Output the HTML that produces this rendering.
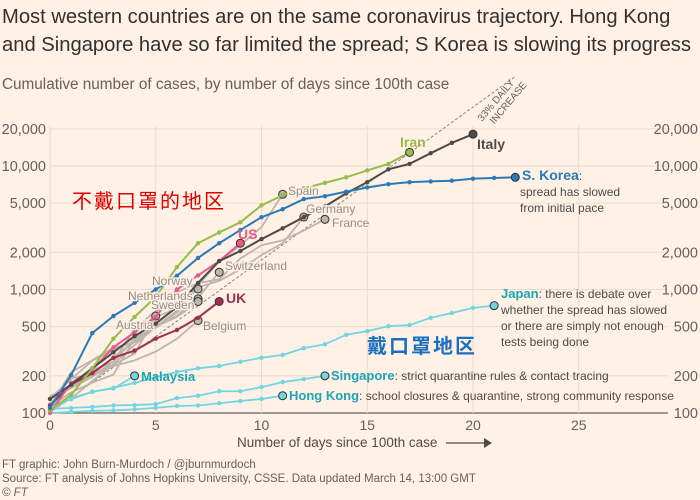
<!DOCTYPE html>
<html><head><meta charset="utf-8"><style>
body{margin:0;background:#fff1e5;}
svg{display:block;font-family:"Liberation Sans","Noto Sans CJK SC",sans-serif;}
</style></head><body>
<svg id="chart" width="700" height="500" viewBox="0 0 700 500">
<rect width="700" height="500" fill="#fff1e5"/>
<text x="2" y="23" font-size="20.2" fill="#33302e">Most western countries are on the same coronavirus trajectory. Hong Kong</text>
<text x="2" y="51" font-size="20.2" fill="#33302e">and Singapore have so far limited the spread; S Korea is slowing its progress</text>
<text x="2" y="89" font-size="15.3" fill="#66605c">Cumulative number of cases, by number of days since 100th case</text>
<g id="grid"></g><g id="series"></g><g id="labels"></g>
<text x="237" y="447" font-size="13.5" fill="#4e4a47">Number of days since 100th case</text>
<line x1="446" y1="443" x2="484" y2="443" stroke="#4e4a47" stroke-width="1.2"/>
<polygon points="484,438 492,443 484,448" fill="#4e4a47"/>
<text x="2" y="468" font-size="11.5" fill="#66605c">FT graphic: John Burn-Murdoch / @jburnmurdoch</text>
<text x="2" y="482" font-size="11.5" fill="#66605c">Source: FT analysis of Johns Hopkins University, CSSE. Data updated March 14, 13:00 GMT</text>
<text x="2" y="496" font-size="11.5" fill="#66605c" font-style="italic">© FT</text>
<text x="72" y="208" font-size="20" fill="#e00000" letter-spacing="2">不戴口罩的地区</text>
<text x="367" y="353" font-size="20" fill="#1a6fc0" font-weight="bold" letter-spacing="2">戴口罩地区</text>
</svg>
<script>
const xTicks=[0,5,10,15,20,25];
const yTicks=[100,200,500,1000,2000,5000,10000,20000];
const yTickLabels=["100","200","500","1,000","2,000","5,000","10,000","20,000"];
const italy=[130,170,230,310,420,530,720,1130,1700,2050,2560,3130,3860,4700,6000,7400,9400,10400,12700,15400,18100];
const iran=[105,140,230,400,600,870,1520,2370,2900,3500,4800,5800,6600,7300,8100,9200,10400,12900];
const sKorea=[110,203,444,610,780,1000,1290,1800,2370,3030,3850,4470,5400,5700,6200,6700,7130,7400,7500,7600,7900,8000,8100];
const us=[100,175,225,340,450,600,1000,1300,1700,2370];
const uk=[115,170,210,280,320,400,470,590,800];
const spain=[120,165,222,259,400,500,673,1073,1695,2277,3200,5900];
const germany=[130,159,196,262,482,670,799,1040,1176,1457,1900,2370,3860];
const france=[130,191,204,285,377,653,949,1126,1209,1784,2281,2500,3000,3700];
const switzerland=[114,214,268,337,374,491,652,858,1380];
const norway=[113,147,176,205,400,598,702,1010];
const netherlands=[128,188,265,321,382,503,614,840];
const sweden=[137,161,203,248,355,500,599,800];
const austria=[104,131,182,246,302,610];
const belgium=[109,169,200,239,267,314,399,560];
const japan=[105,132,148,160,175,195,215,230,240,260,280,295,335,360,430,460,505,515,590,645,710,740];
const malaysia=[117,129,149,158,200];
const singapore=[108,110,112,115,116,118,132,138,150,150,162,178,188,200];
const hongKong=[100,102,104,105,107,110,114,115,120,125,130,138];
const dailyGrowth=1.33;

const X0=50,DX=21.15,Y0=413,DEC=123.5;
const xs=d=>X0+d*DX;
const ys=v=>Y0-DEC*Math.log10(v/100);
const NS="http://www.w3.org/2000/svg";
function mk(tag,attrs,parent){const e=document.createElementNS(NS,tag);for(const k in attrs)e.setAttribute(k,attrs[k]);parent.appendChild(e);return e;}
const grid=document.getElementById('grid'),ser=document.getElementById('series'),lab=document.getElementById('labels');

yTicks.forEach((v,i)=>{
 const l=mk('line',{x1:50,x2:668,y1:ys(v),y2:ys(v),stroke:i==0?'#66605c':'#e9dccf','stroke-width':i==0?1.3:1},grid);
 
 
 const t1=mk('text',{x:46,y:ys(v)+5,'text-anchor':'end','font-size':14.5,fill:'#66605c'},grid);t1.textContent=yTickLabels[i];
 
 
 const t2=mk('text',{x:698,y:ys(v)+5,'text-anchor':'end','font-size':14.5,fill:'#66605c'},grid);t2.textContent=yTickLabels[i];
 
 
});
xTicks.forEach(d=>{
 const l=mk('line',{x1:xs(d),x2:xs(d),y1:ys(20000)-3,y2:Y0,stroke:'#e9dccf'},grid);
 
 
 const t=mk('text',{x:xs(d),y:430,'text-anchor':'middle','font-size':14,fill:'#66605c'},grid);t.textContent=d;
 
 
});
const dEnd=Math.log(524)/Math.log(dailyGrowth);
const ref=mk('line',{x1:xs(0),y1:ys(100),x2:xs(dEnd),y2:ys(100*Math.pow(dailyGrowth,dEnd)),stroke:'#8a837e','stroke-dasharray':'3,2','stroke-width':1},ser);


const rt=mk('text',{x:0,y:0,'font-size':10,fill:'#66605c',transform:'translate(482,122) rotate(-50)'},lab);
rt.innerHTML='<tspan x="0" y="0">33% DAILY</tspan><tspan x="6" y="11">INCREASE</tspan>';



function draw(arr,color,name,w,dots){
 const p=mk('polyline',{points:arr.map((v,i)=>xs(i)+','+ys(v)).join(' '),fill:'none',stroke:color,'stroke-width':w,'stroke-linejoin':'round'},ser);
 
 
 if(dots)arr.slice(0,-1).forEach((v,i)=>{const c=mk('circle',{cx:xs(i),cy:ys(v),r:2.2,fill:color},ser);
  
  });
 const n=arr.length-1;
 const m=mk('circle',{cx:xs(n),cy:ys(arr[n]),r:4,fill:color,stroke:'#33302e','stroke-width':1},ser);
 
 
}
const G='#bdb5ae',C='#72d5e2',GL='#958d87';
[[spain,'spain'],[germany,'germany'],[france,'france'],[switzerland,'switzerland'],[norway,'norway'],[netherlands,'netherlands'],[sweden,'sweden'],[austria,'austria'],[belgium,'belgium']].forEach(s=>draw(s[0],G,s[1],1.8,false));
draw(hongKong,C,'hong-kong',1.8,true);
draw(singapore,C,'singapore',1.8,true);
draw(malaysia,C,'malaysia',1.8,true);
draw(japan,C,'japan',1.8,true);
draw(uk,'#9e2f50','uk',2,true);
draw(us,'#e9598b','us',2,true);
draw(italy,'#4e4a47','italy',2,true);
draw(iran,'#96bc4b','iran',2,true);
draw(sKorea,'#2a7ab8','s-korea',2,true);

function label(x,y,txt,color,size,name,bold){const t=mk('text',{x:x,y:y,'font-size':size,fill:color,'font-weight':bold?'bold':'normal',stroke:'#fff1e5','stroke-width':bold?0:2.5,'paint-order':'stroke'},lab);t.innerHTML=txt;
 
 }
label(288,195,'Spain',GL,12,'label-spain');
label(306,213,'Germany',GL,12,'label-germany');
label(332,227,'France',GL,12,'label-france');
label(225,270,'Switzerland',GL,12,'label-switzerland');
label(152,285,'Norway',GL,12,'label-norway');
label(128,300,'Netherlands',GL,12,'label-netherlands');
label(151,309,'Sweden',GL,12,'label-sweden');
label(116,329,'Austria',GL,12,'label-austria');
label(203,330,'Belgium',GL,12,'label-belgium');
label(238,239,'US','#e9598b',14,'label-us',true);
label(226,303,'UK','#9e2f50',14,'label-uk',true);
label(400,147,'Iran','#96bc4b',14,'label-iran',true);
label(477,149,'Italy','#4e4a47',14,'label-italy',true);
label(522,180,'S. Korea<tspan fill="#4e4a47" font-weight="normal" font-size="12">:</tspan>','#2a7ab8',14,'label-s-korea',true);
label(520,196,'spread has slowed','#4e4a47',12,'note-s-korea-1');
label(520,212,'from initial pace','#4e4a47',12,'note-s-korea-2');
label(501,298,'Japan<tspan fill="#4e4a47" font-weight="normal" font-size="12">: there is debate over</tspan>','#1ca5b3',13,'label-japan',true);
label(501,314,'whether the spread has slowed','#4e4a47',12,'note-japan-2');
label(501,330,'or there are simply not enough','#4e4a47',12,'note-japan-3');
label(501,346,'tests being done','#4e4a47',12,'note-japan-4');
label(141,381,'Malaysia','#1ca5b3',13,'label-malaysia',true);
label(331,380,'Singapore<tspan fill="#4e4a47" font-weight="normal" font-size="12">: strict quarantine rules &amp; contact tracing</tspan>','#1ca5b3',13,'label-singapore',true);
label(289,400,'Hong Kong<tspan fill="#4e4a47" font-weight="normal" font-size="12">: school closures &amp; quarantine, strong community response</tspan>','#1ca5b3',13,'label-hong-kong',true);
</script>
</body></html>
